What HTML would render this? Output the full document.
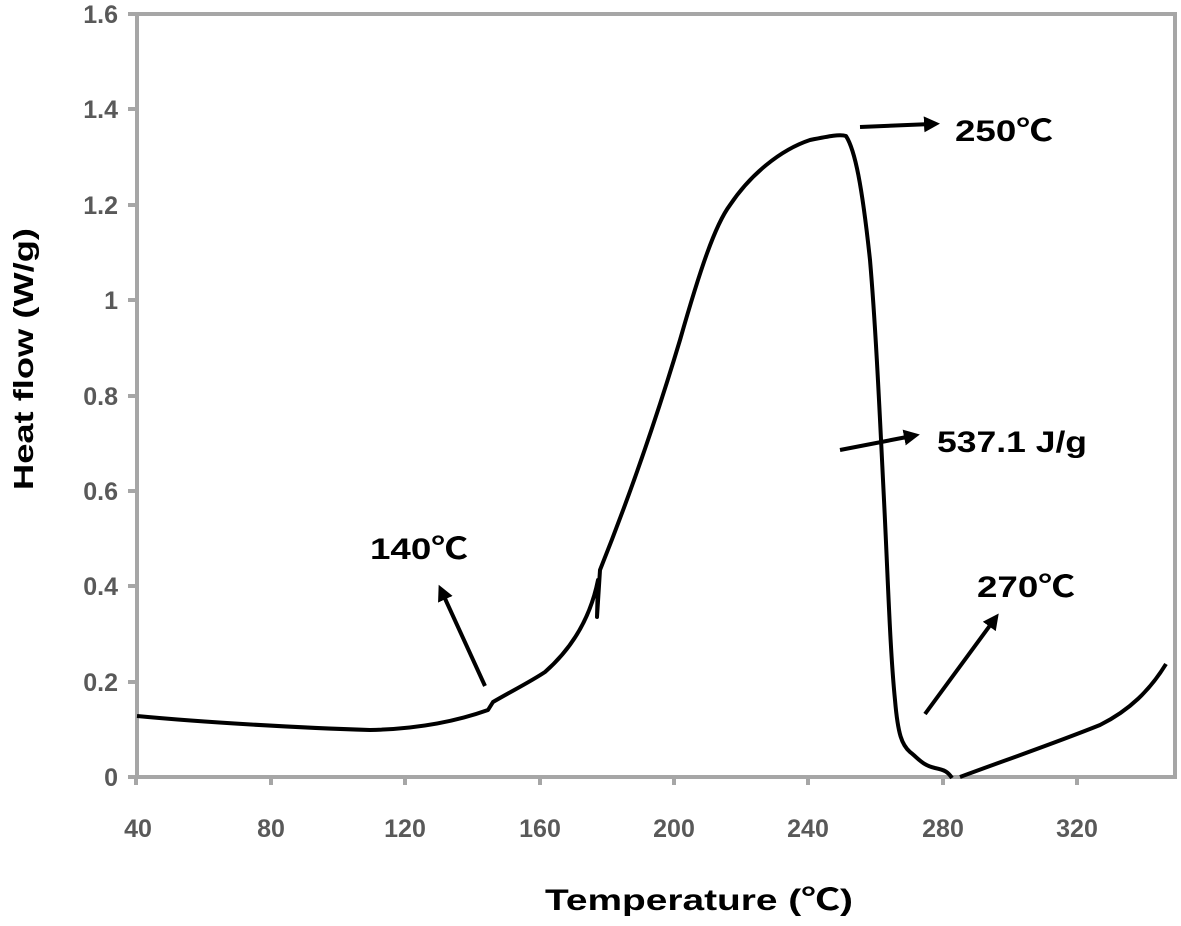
<!DOCTYPE html>
<html><head><meta charset="utf-8"><style>body{margin:0;background:#fff}</style></head><body>
<svg width="1181" height="921" viewBox="0 0 1181 921" xmlns="http://www.w3.org/2000/svg" font-family="Liberation Sans, 'Noto Sans CJK SC', sans-serif">
<defs><marker id="ah" markerWidth="4" markerHeight="4" refX="2" refY="2" orient="auto" markerUnits="strokeWidth"><path d="M0,0 L4,2 L0,4 z" fill="#000"/></marker></defs>
<g stroke="#a6a6a6" stroke-width="4" fill="none">
<rect x="137" y="14" width="1038" height="763"/>
<path d="M136,777v8M271,777v8M405,777v8M540,777v8M674,777v8M808,777v8M943,777v8M1077,777v8"/>
<path d="M128,14h9M128,109h9M128,205h9M128,300h9M128,396h9M128,491h9M128,586h9M128,682h9M128,777h9"/>
</g>
<g fill="#595959" font-size="25" font-weight="bold" text-anchor="middle">
<text x="138" y="837">40</text><text x="271" y="837">80</text><text x="405" y="837">120</text><text x="540" y="837">160</text><text x="674" y="837">200</text><text x="808" y="837">240</text><text x="943" y="837">280</text><text x="1077" y="837">320</text>
</g>
<g fill="#595959" font-size="25" font-weight="bold" text-anchor="end">
<text x="118" y="23">1.6</text><text x="118" y="118">1.4</text><text x="118" y="214">1.2</text><text x="118" y="309">1</text><text x="118" y="405">0.8</text><text x="118" y="500">0.6</text><text x="118" y="595">0.4</text><text x="118" y="691">0.2</text><text x="118" y="786">0</text>
</g>
<text x="545" y="910" font-size="30" font-weight="bold" fill="#000" textLength="308" lengthAdjust="spacingAndGlyphs">Temperature (℃)</text>
<text transform="translate(33,490) rotate(-90)" font-size="28" font-weight="bold" fill="#000" textLength="262" lengthAdjust="spacingAndGlyphs">Heat flow (W/g)</text>
<path fill="none" stroke="#000" stroke-width="4" stroke-linejoin="round" d="M137,716 C200,722 300,728 370,730 C420,729 460,720 488,710 L493,702 C510,692 530,682 545,672 C570,650 590,620 598,580 L597,617 L600,570 C620,520 650,440 680,340 C700,270 715,225 730,205 C750,175 780,150 810,140 C830,136 840,134 846,136 C855,150 862,185 870,260 C876,330 880,420 884,500 C888,580 890,650 895,700 C898,735 902,745 910,752 C918,758 922,765 935,768 C945,770 948,772 952,778 M960,777 C1000,762 1050,745 1100,725 C1130,710 1150,690 1166,664"/>
<g stroke="#000" stroke-width="4" marker-end="url(#ah)">
<line x1="485" y1="686" x2="442" y2="592"/>
<line x1="860" y1="127" x2="932" y2="124"/>
<line x1="840" y1="450" x2="912" y2="436"/>
<line x1="925" y1="714" x2="994" y2="620"/>
</g>
<g font-size="30" font-weight="bold" fill="#000" lengthAdjust="spacingAndGlyphs">
<text x="370" y="559" textLength="98" lengthAdjust="spacingAndGlyphs">140℃</text>
<text x="955" y="141" textLength="98" lengthAdjust="spacingAndGlyphs">250℃</text>
<text x="937" y="452" textLength="150" lengthAdjust="spacingAndGlyphs">537.1 J/g</text>
<text x="977" y="597" textLength="98" lengthAdjust="spacingAndGlyphs">270℃</text>
</g>
</svg>
</body></html>
